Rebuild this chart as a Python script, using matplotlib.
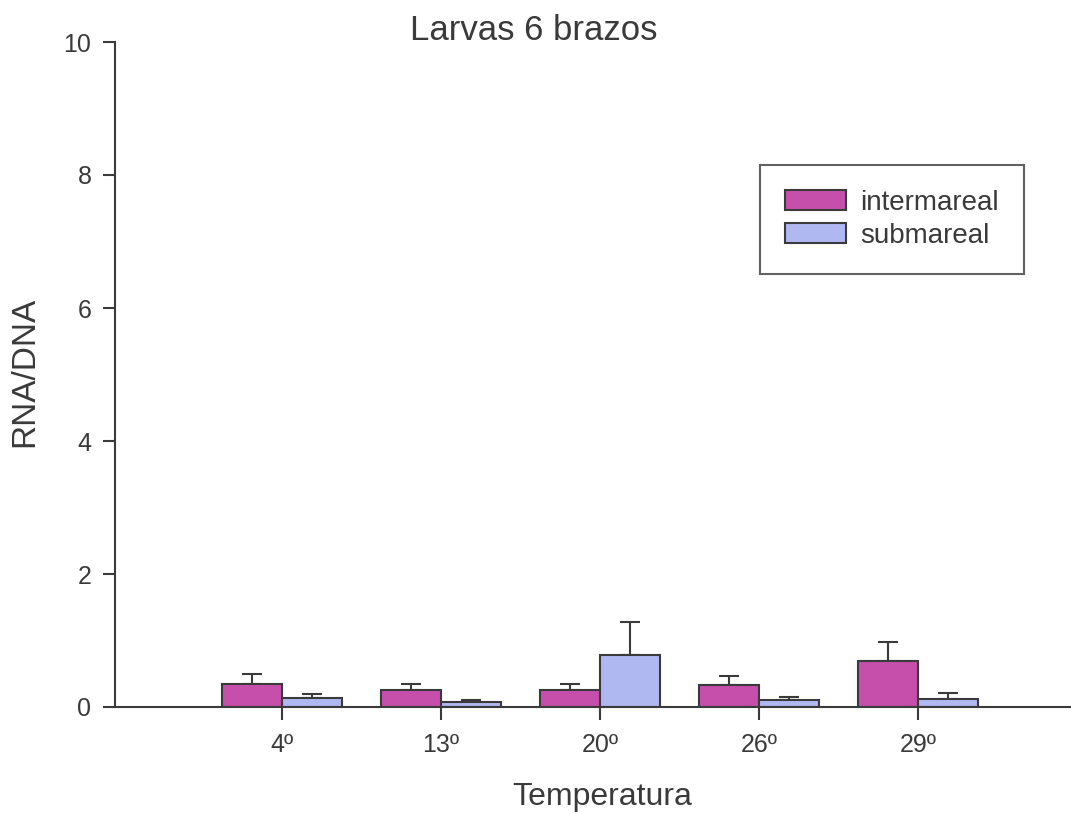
import numpy as np
import matplotlib
matplotlib.use('Agg')
import matplotlib.pyplot as plt

plt.rcParams['font.family'] = ['Liberation Sans', 'DejaVu Sans']

temps = ['4º', '13º', '20º', '26º', '29º']
intermareal = [0.35, 0.26, 0.26, 0.33, 0.69]
intermareal_err = [0.15, 0.09, 0.09, 0.14, 0.29]
submareal = [0.14, 0.08, 0.78, 0.10, 0.12]
submareal_err = [0.05, 0.02, 0.50, 0.05, 0.09]

c_inter = '#C64FAB'
c_sub = '#B0B8F2'
edge = '#3a3a3a'
txt = '#3a3a3a'

fig = plt.figure(figsize=(10.71, 8.14), dpi=100)
ax = fig.add_axes([115/1071, 1-707/814, (1071-115)/1071, (707-42)/814])

x = np.arange(len(temps))
w = 0.377
ax.bar(x - w/2, intermareal, w, color=c_inter, edgecolor=edge, linewidth=1.5, label='intermareal', zorder=2)
ax.bar(x + w/2, submareal, w, color=c_sub, edgecolor=edge, linewidth=1.5, label='submareal', zorder=2)
ax.errorbar(x - w/2, intermareal, yerr=[np.zeros(5), intermareal_err], fmt='none',
            ecolor=edge, elinewidth=1.5, capsize=7, capthick=1.5, zorder=1)
ax.errorbar(x + w/2, submareal, yerr=[np.zeros(5), submareal_err], fmt='none',
            ecolor=edge, elinewidth=1.5, capsize=7, capthick=1.5, zorder=1)

ax.set_xlim(-1.05, 4.96)
ax.set_ylim(0, 10)
ax.set_yticks([0, 2, 4, 6, 8, 10])
ax.set_xticks(x)
ax.set_xticklabels(temps)
for s in ['top', 'right']:
    ax.spines[s].set_visible(False)
for s in ['left', 'bottom']:
    ax.spines[s].set_color(edge)
    ax.spines[s].set_linewidth(1.5)
ax.tick_params(axis='both', colors=edge, labelcolor=txt, labelsize=18,
               width=1.5, length=9, direction='out')
ax.tick_params(axis='x', pad=10)
ax.tick_params(axis='y', pad=8)

fig.text(534/1071, 1-30/814, 'Larvas 6 brazos', ha='center', va='center', fontsize=25, color=txt)
fig.text(25/1071, 1-372/814, 'RNA/DNA', rotation=90, ha='center', va='center', fontsize=24, color=txt)
fig.text(602/1071, 1-797/814, 'Temperatura', ha='center', va='center', fontsize=23, color=txt)

leg = ax.legend(loc='upper left', bbox_to_anchor=((760-115)/956, (707-165)/665),
                fontsize=20, frameon=True, fancybox=False, handlelength=2.2, handleheight=0.75,
                handletextpad=0.5, borderpad=0.9, labelspacing=0.25, borderaxespad=0)
leg.get_frame().set_edgecolor(edge)
leg.get_frame().set_linewidth(1.5)
for t in leg.get_texts():
    t.set_color(txt)

fig.savefig('out.png', dpi=100, facecolor='white')
